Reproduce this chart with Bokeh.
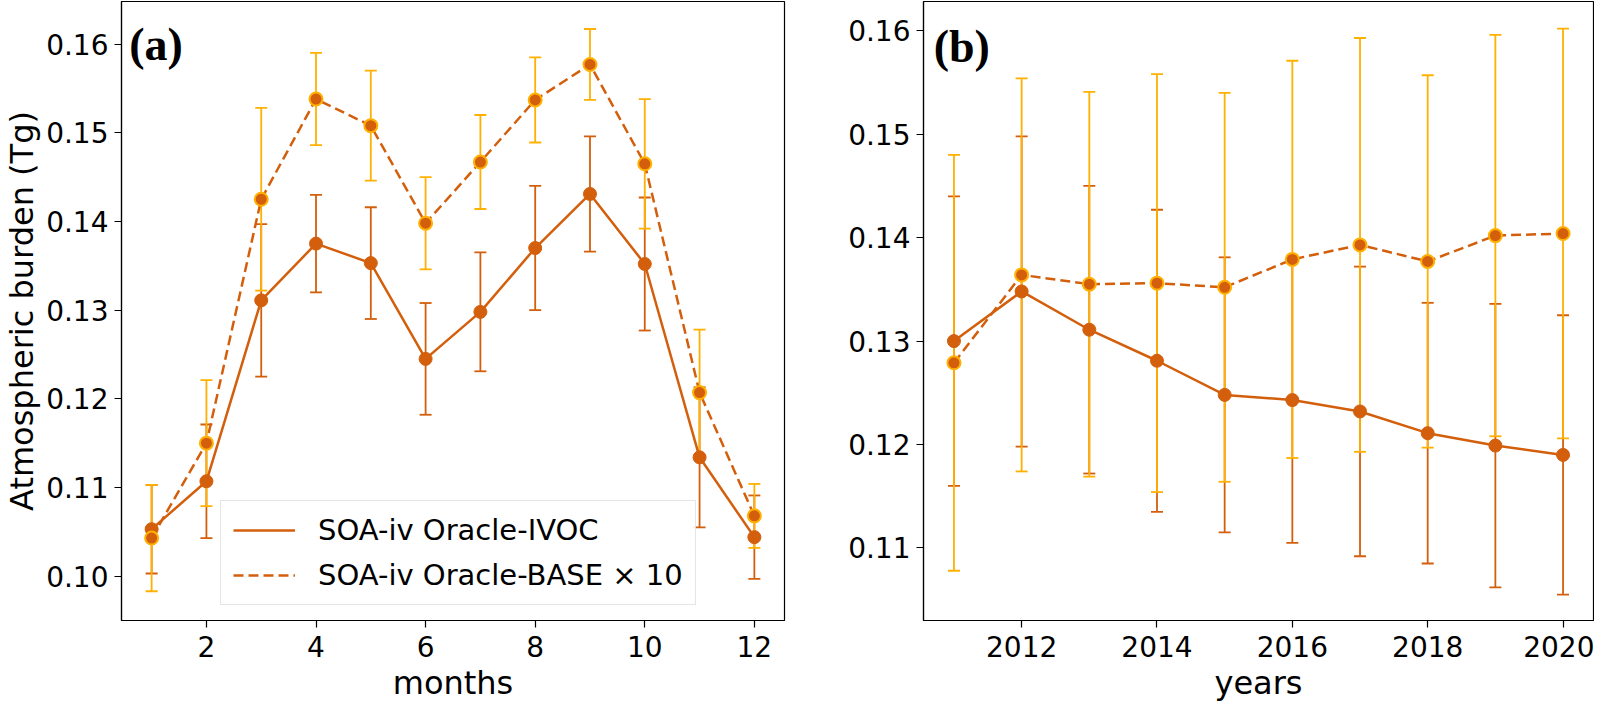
from bokeh.plotting import figure
from bokeh.models import (ColumnDataSource, Whisker, TeeHead, Range1d, FixedTicker,
                          PrintfTickFormatter, Legend, LegendItem, Label)
from bokeh.layouts import row
from bokeh.embed import file_html
from bokeh.resources import INLINE

# ---------------- data ----------------
months = [1, 2, 3, 4, 5, 6, 7, 8, 9, 10, 11, 12]
ivoc_month = [0.1053, 0.1107, 0.1311, 0.1375, 0.1353, 0.1245, 0.1298, 0.1370, 0.1431, 0.1352, 0.1134, 0.1044]
ivoc_month_err = [0.0050, 0.0064, 0.0086, 0.0055, 0.0063, 0.0063, 0.0067, 0.0070, 0.0065, 0.0075, 0.0079, 0.0047]
base_month = [0.1043, 0.1150, 0.1425, 0.1538, 0.1508, 0.1398, 0.1467, 0.1537, 0.1577, 0.1465, 0.1207, 0.1068]
base_month_err = [0.0060, 0.0071, 0.0103, 0.0052, 0.0062, 0.0052, 0.0053, 0.0048, 0.0040, 0.0073, 0.0071, 0.0036]

years = [2011, 2012, 2013, 2014, 2015, 2016, 2017, 2018, 2019, 2020]
ivoc_year = [0.1300, 0.1348, 0.1311, 0.1281, 0.1248, 0.1243, 0.1232, 0.1211, 0.1199, 0.1190]
ivoc_year_err = [0.0140, 0.0150, 0.0139, 0.0146, 0.0133, 0.0138, 0.0140, 0.0126, 0.0137, 0.0135]
base_year = [0.1279, 0.1364, 0.1355, 0.1356, 0.1352, 0.1379, 0.1393, 0.1377, 0.1402, 0.1404]
base_year_err = [0.0201, 0.0190, 0.0186, 0.0202, 0.0188, 0.0192, 0.0200, 0.0180, 0.0194, 0.0198]

month_ticks = [2, 4, 6, 8, 10, 12]
year_ticks = [2012, 2014, 2016, 2018, 2020]
a_yticks = [0.10, 0.11, 0.12, 0.13, 0.14, 0.15, 0.16]
b_yticks = [0.11, 0.12, 0.13, 0.14, 0.15, 0.16]

label_ivoc = "SOA-iv Oracle-IVOC"
label_base = "SOA-iv Oracle-BASE \u00d7 10"

DARK = "#d35f0c"
YEL = "#ffb000"
FONT = "DejaVu Sans"
H = 704


def style(p):
    p.outline_line_color = "black"
    p.outline_line_width = 1.2
    p.xgrid.visible = False
    p.ygrid.visible = False
    p.background_fill_color = "white"
    p.border_fill_color = "white"
    for ax in (p.xaxis[0], p.yaxis[0]):
        ax.axis_line_color = "black"
        ax.axis_line_width = 1.2
        ax.major_tick_line_color = "black"
        ax.major_tick_line_width = 1.2
        ax.major_tick_out = 7
        ax.major_tick_in = 0
        ax.minor_tick_line_color = None
        ax.major_label_text_font = FONT
        ax.major_label_text_font_size = "28px"
        ax.major_label_text_color = "black"
        ax.axis_label_text_font = FONT
        ax.axis_label_text_font_size = "32px"
        ax.axis_label_text_font_style = "normal"
        ax.axis_label_text_color = "black"
    p.xaxis[0].major_label_standoff = 8
    p.yaxis[0].major_label_standoff = 6
    p.xaxis[0].axis_label_standoff = 4
    p.yaxis[0].axis_label_standoff = 2
    p.yaxis[0].formatter = PrintfTickFormatter(format="%.2f")


def add_series(p, x, ivoc, ivoc_err, base, base_err):
    src_i = ColumnDataSource(dict(x=x, y=ivoc,
                                  lo=[v - e for v, e in zip(ivoc, ivoc_err)],
                                  hi=[v + e for v, e in zip(ivoc, ivoc_err)]))
    src_b = ColumnDataSource(dict(x=x, y=base,
                                  lo=[v - e for v, e in zip(base, base_err)],
                                  hi=[v + e for v, e in zip(base, base_err)]))
    for src, col in ((src_i, DARK), (src_b, YEL)):
        w = Whisker(source=src, base="x", lower="lo", upper="hi",
                    line_color=col, line_width=1.8, level="underlay",
                    upper_head=TeeHead(size=12, line_color=col, line_width=1.8),
                    lower_head=TeeHead(size=12, line_color=col, line_width=1.8))
        p.add_layout(w)
    li = p.line("x", "y", source=src_i, line_color=DARK, line_width=2.5)
    p.scatter("x", "y", source=src_i, size=13, fill_color=DARK, line_color=DARK)
    lb = p.line("x", "y", source=src_b, line_color=DARK, line_width=2.5, line_dash="10 5")
    p.scatter("x", "y", source=src_b, size=13, fill_color=DARK, line_color=YEL, line_width=2)
    return li, lb


# ---------------- panel (a) ----------------
pa = figure(width=845, height=H, output_backend="svg", toolbar_location=None,
            x_range=Range1d(0.45, 12.55), y_range=Range1d(0.0950, 0.1648),
            min_border_left=111, min_border_right=61, min_border_top=1, min_border_bottom=82)
style(pa)
pa.xaxis[0].ticker = FixedTicker(ticks=month_ticks)
pa.yaxis[0].ticker = FixedTicker(ticks=a_yticks)
pa.xaxis[0].axis_label = "months"
pa.yaxis[0].axis_label = "Atmospheric burden (Tg)"
li, lb = add_series(pa, months, ivoc_month, ivoc_month_err, base_month, base_month_err)

legend = Legend(items=[LegendItem(label=label_ivoc, renderers=[li]),
                       LegendItem(label=label_base, renderers=[lb])],
                location=(99, 15), orientation="vertical",
                label_text_font=FONT, label_text_font_size="29px", label_text_color="black",
                glyph_width=62, glyph_height=30, label_height=30, label_standoff=23,
                padding=12, spacing=11, margin=0,
                border_line_color="#cccccc", border_line_width=1.5,
                background_fill_color="white", background_fill_alpha=0.85)
pa.add_layout(legend)

pa.add_layout(Label(x=0.59, y=0.1600, text="(a)", text_font="Liberation Serif",
                    text_font_style="bold", text_font_size="46px", text_color="black",
                    text_baseline="alphabetic", text_align="left"))

# ---------------- panel (b) ----------------
pb = figure(width=749, height=H, output_backend="svg", toolbar_location=None,
            x_range=Range1d(2010.55, 2020.45), y_range=Range1d(0.10299, 0.16283),
            min_border_left=76, min_border_right=1, min_border_top=1, min_border_bottom=82)
style(pb)
pb.xaxis[0].ticker = FixedTicker(ticks=year_ticks)
pb.yaxis[0].ticker = FixedTicker(ticks=b_yticks)
pb.xaxis[0].axis_label = "years"
add_series(pb, years, ivoc_year, ivoc_year_err, base_year, base_year_err)

pb.add_layout(Label(x=2010.70, y=0.1585, text="(b)", text_font="Liberation Serif",
                    text_font_style="bold", text_font_size="46px", text_color="black",
                    text_baseline="alphabetic", text_align="left"))

layout = row(pa, pb, spacing=0)
open("out.html", "w").write(file_html(layout, INLINE))
